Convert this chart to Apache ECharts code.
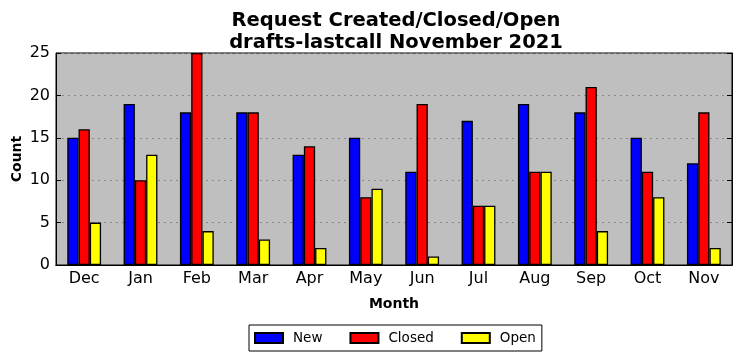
<!DOCTYPE html>
<html><head><meta charset="utf-8">
<script src="https://cdn.jsdelivr.net/npm/echarts@6/dist/echarts.min.js"></script>
<style>html,body{margin:0;padding:0;background:#fff}#c{width:742px;height:361px}</style>
</head><body><div id="c"></div>
<script>
var months = ['Dec','Jan','Feb','Mar','Apr','May','Jun','Jul','Aug','Sep','Oct','Nov'];
var newVals = [15,19,18,18,13,15,11,17,19,18,15,12];
var closedVals = [16,10,25,18,14,8,19,7,11,21,11,18];
var openVals = [5,13,4,3,2,9,1,7,11,4,8,2];
var yTicks = [0,5,10,15,20,25];

var font = 'DejaVu Sans';
var chart = echarts.init(document.getElementById('c'), null, {renderer:'canvas'});
function bar(name, data, color){
  return {name:name, type:'bar', data:data, barWidth:'20%', barGap:'0%',
    itemStyle:{color:color, borderColor:'#000', borderWidth:1.3}, animation:false};
}
chart.setOption({
  animation:false,
  textStyle:{fontFamily:font},
  title:{text:'Request Created/Closed/Open\ndrafts-lastcall November 2021', left:391, textAlign:'center', top:5,
    textStyle:{fontFamily:font, fontSize:19.5, fontWeight:'bold', color:'#000', lineHeight:22}},
  legend:{bottom:10, left:249, itemWidth:28, itemHeight:10, itemGap:27,
    borderColor:'#000', borderWidth:1, padding:[6,6,6,5], borderRadius:0,
    textStyle:{fontFamily:font, fontSize:13.5, color:'#000', padding:[0,0,0,5]},
    data:['New','Closed','Open'], icon:'rect'},
  grid:{left:56, right:10, top:53, bottom:96, show:true, outerBoundsMode:'none', containLabel:false,
    backgroundColor:'#bfbfbf', borderColor:'#000', borderWidth:1},
  xAxis:[{type:'category', data:months, boundaryGap:true,
    name:'Month', nameLocation:'middle', nameGap:32, nameMoveOverlap:false,
    nameTextStyle:{fontFamily:font, fontSize:14, fontWeight:'bold', color:'#000'},
    axisLine:{lineStyle:{color:'#000'}}, axisTick:{alignWithLabel:true, inside:true, length:5, lineStyle:{color:'#000'}},
    axisLabel:{fontFamily:font, fontSize:16, color:'#000', margin:6}},
   {type:'category', data:months, position:'top', boundaryGap:true,
    axisLine:{lineStyle:{color:'#000'}}, axisTick:{alignWithLabel:true, inside:true, length:5, lineStyle:{color:'#000'}},
    axisLabel:{show:false}}],
  yAxis:[{type:'value', min:0, max:25, interval:5,
    name:'Count', nameLocation:'middle', nameGap:32, nameRotate:90, nameMoveOverlap:false,
    nameTextStyle:{fontFamily:font, fontSize:14, fontWeight:'bold', color:'#000'},
    axisLine:{show:true, lineStyle:{color:'#000'}}, axisTick:{show:true, inside:true, length:5, lineStyle:{color:'#000'}},
    axisLabel:{fontFamily:font, fontSize:16, color:'#000', margin:6,
      formatter:function(v){return yTicks.indexOf(v)>=0 ? String(v) : '';}},
    splitLine:{show:true, lineStyle:{color:'#888', type:[2,4], width:1}}},
   {type:'value', min:0, max:25, interval:5, position:'right',
    axisLine:{show:true, lineStyle:{color:'#000'}}, axisTick:{show:true, inside:true, length:5, lineStyle:{color:'#000'}},
    axisLabel:{show:false}, splitLine:{show:false}}],
  series:[bar('New', newVals, '#0000ff'), bar('Closed', closedVals, '#ff0000'), bar('Open', openVals, '#ffff00')]
});
</script></body></html>
